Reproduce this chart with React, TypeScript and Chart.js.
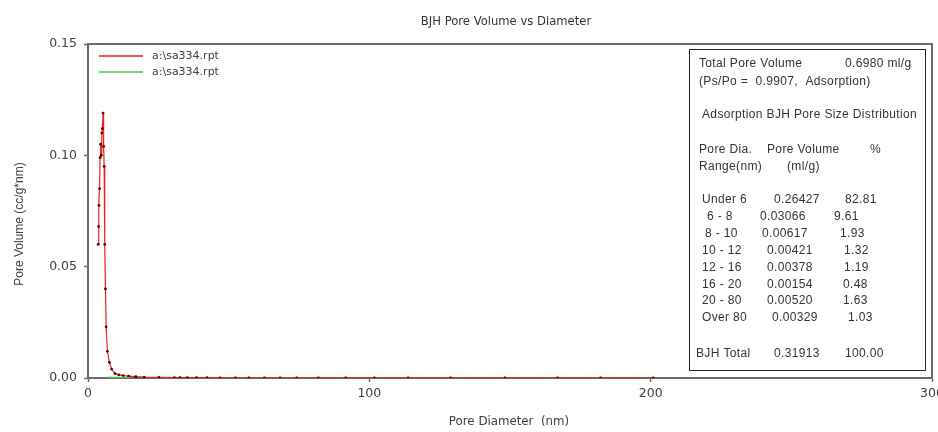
import React, { useEffect, useRef } from "react";
import { Chart, registerables } from "chart.js";

Chart.register(...registerables);

// Adsorption branch, pore diameter (nm) vs dV/dD (cc/g*nm)
const adsDiameter = [
  3.6, 3.75, 3.9, 4.1, 4.3, 4.5, 4.7, 4.9, 5.1, 5.35, 5.55, 5.75, 5.95, 6.2,
  6.45, 6.9, 7.6, 8.4, 9.6, 11, 12.5, 14.5, 17, 20, 25.2, 30.7, 32.7, 35.3,
  38.6, 42.3, 46.9, 52.4, 57.2, 62.7, 68.3, 74.2, 81.9, 91.6, 101.8, 113.8,
  128.9, 148.2, 166.9, 182.2, 200.9,
];
const adsVolume = [
  0.06, 0.068, 0.0775, 0.085, 0.099, 0.105, 0.1, 0.11, 0.112, 0.119, 0.104,
  0.095, 0.06, 0.04, 0.023, 0.012, 0.007, 0.004, 0.002, 0.0014, 0.0011,
  0.0008, 0.0006, 0.0004, 0.0003, 0.0002, 0.0002, 0.0002, 0.00015, 0.00015,
  0.0001, 0.0001, 0.0001, 0.0001, 0.0001, 0.0001, 0.0001, 0.0001, 0.0001,
  0.0001, 0.0001, 0.0001, 0.0001, 0.0001, 0.0001,
];

// Second trace from the same report file
const desDiameter = [7, 9, 11, 13, 15];
const desVolume = [0.0004, 0.0003, 0.0003, 0.0002, 0.0002];

const seriesLabels = ["a:\\sa334.rpt", "a:\\sa334.rpt"];
const seriesColors = ["#f02020", "#40d040"];

const xTicks = [0, 100, 200, 300];
const yTicks = [0, 0.05, 0.1, 0.15];

// Summary table
const totalPoreVolume = "0.6980 ml/g";
const psPo = "(Ps/Po =  0.9907,  Adsorption)";
const rangeLabels = ["Under 6", "6 - 8", "8 - 10", "10 - 12", "12 - 16", "16 - 20", "20 - 80", "Over 80"];
const rangeVolumes = ["0.26427", "0.03066", "0.00617", "0.00421", "0.00378", "0.00154", "0.00520", "0.00329"];
const rangePercents = ["82.81", "9.61", "1.93", "1.32", "1.19", "0.48", "1.63", "1.03"];
const bjhTotal = ["BJH Total", "0.31913", "100.00"];

// column x positions for each row: [range, volume, percent]
const rowX = [
  [702, 774, 845],
  [707, 760, 834],
  [705, 762, 840],
  [702, 767, 844],
  [702, 767, 844],
  [702, 767, 843],
  [702, 767, 843],
  [702, 772, 848],
];
const rowY = [200, 217, 234, 251, 268, 285, 301, 318];

const TEXT = "#404040";
const AXIS = "#6a6a6a";

const decorPlugin = {
  id: "decor",
  afterDraw(chart: any) {
    const { ctx, chartArea } = chart;
    const { left, right, top, bottom } = chartArea;
    ctx.save();

    // frame: top and right edges
    ctx.strokeStyle = AXIS;
    ctx.lineWidth = 2;
    ctx.beginPath();
    ctx.moveTo(left, top);
    ctx.lineTo(right, top);
    ctx.lineTo(right, bottom);
    ctx.stroke();

    // title
    ctx.fillStyle = "#333";
    ctx.font = "11.6px 'DejaVu Sans'";
    ctx.textAlign = "center";
    ctx.textBaseline = "middle";
    ctx.fillText("BJH Pore Volume vs Diameter", 506, 22);

    // axis titles
    ctx.fillStyle = TEXT;
    ctx.font = "11.8px 'DejaVu Sans'";
    ctx.fillText("Pore Diameter  (nm)", 509, 422);
    ctx.save();
    ctx.translate(20, 224);
    ctx.rotate(-Math.PI / 2);
    ctx.font = "12px 'Liberation Sans'";
    ctx.fillText("Pore Volume (cc/g*nm)", 0, 0);
    ctx.restore();

    // legend
    const legendY = [56, 72];
    ctx.textAlign = "left";
    ctx.font = "11px 'DejaVu Sans'";
    seriesLabels.forEach((lab, i) => {
      ctx.strokeStyle = seriesColors[i];
      ctx.lineWidth = 1.5;
      ctx.beginPath();
      ctx.moveTo(99, legendY[i]);
      ctx.lineTo(143, legendY[i]);
      ctx.stroke();
      ctx.fillStyle = TEXT;
      ctx.fillText(lab, 152, legendY[i]);
    });

    // summary table box
    ctx.fillStyle = "#fff";
    ctx.fillRect(689, 49, 237, 322);
    ctx.strokeStyle = "#222";
    ctx.lineWidth = 1;
    ctx.strokeRect(689.5, 49.5, 236, 321);

    ctx.fillStyle = "#333";
    ctx.font = "12px 'Liberation Sans'";
    ctx.letterSpacing = "0.35px";
    ctx.textAlign = "left";
    ctx.fillText("Total Pore Volume", 699, 64);
    ctx.fillText(totalPoreVolume, 845, 64);
    ctx.fillText(psPo, 699, 82);
    ctx.fillText("Adsorption BJH Pore Size Distribution", 702, 115);
    ctx.fillText("Pore Dia.", 699, 150);
    ctx.fillText("Pore Volume", 767, 150);
    ctx.fillText("%", 870, 150);
    ctx.fillText("Range(nm)", 699, 167);
    ctx.fillText("(ml/g)", 787, 167);
    rangeLabels.forEach((lab, i) => {
      ctx.fillText(lab, rowX[i][0], rowY[i]);
      ctx.fillText(rangeVolumes[i], rowX[i][1], rowY[i]);
      ctx.fillText(rangePercents[i], rowX[i][2], rowY[i]);
    });
    ctx.fillText(bjhTotal[0], 696, 354);
    ctx.fillText(bjhTotal[1], 774, 354);
    ctx.fillText(bjhTotal[2], 845, 354);
    ctx.letterSpacing = "0px";

    ctx.restore();
  },
};

export default function App() {
  const ref = useRef<HTMLCanvasElement | null>(null);

  useEffect(() => {
    if (!ref.current) return;
    const toPts = (xs: number[], ys: number[]) => xs.map((x, i) => ({ x, y: ys[i] }));
    const chart = new Chart(ref.current, {
      type: "line",
      data: {
        datasets: [
          {
            label: seriesLabels[1],
            data: toPts(desDiameter, desVolume),
            borderColor: seriesColors[1],
            borderWidth: 1.2,
            pointRadius: 0,
            tension: 0,
          },
          {
            label: seriesLabels[0],
            data: toPts(adsDiameter, adsVolume),
            borderColor: seriesColors[0],
            borderWidth: 1.2,
            pointRadius: 1.4,
            pointBackgroundColor: "#5a0000",
            pointBorderColor: "#5a0000",
            pointBorderWidth: 0,
            tension: 0,
          },
        ],
      },
      options: {
        responsive: false,
        animation: false,
        events: [],
        layout: { padding: { top: 44, right: 6, left: 0, bottom: 0 } },
        plugins: {
          legend: { display: false },
          title: { display: false },
          tooltip: { enabled: false },
        },
        scales: {
          x: {
            type: "linear",
            min: 0,
            max: 300,
            afterBuildTicks: (s: any) => {
              s.ticks = xTicks.map((v) => ({ value: v }));
            },
            afterFit: (s: any) => {
              s.height = 54;
              s.paddingLeft = 0;
              s.paddingRight = 0;
            },
            ticks: {
              color: TEXT,
              font: { family: "'DejaVu Sans'", size: 12.5 },
              padding: 4,
              maxRotation: 0,
              autoSkip: false,
            },
            grid: {
              display: true,
              drawOnChartArea: false,
              drawTicks: true,
              tickLength: 4,
              tickColor: AXIS,
              tickWidth: 1.5,
            },
            border: { display: true, color: AXIS, width: 2 },
          },
          y: {
            type: "linear",
            min: 0,
            max: 0.15,
            afterBuildTicks: (s: any) => {
              s.ticks = yTicks.map((v) => ({ value: v }));
            },
            afterFit: (s: any) => {
              s.width = 88;
              s.paddingTop = 0;
              s.paddingBottom = 0;
            },
            ticks: {
              color: TEXT,
              font: { family: "'DejaVu Sans'", size: 12.5 },
              padding: 7,
              callback: (v: any) => Number(v).toFixed(2),
            },
            grid: {
              display: true,
              drawOnChartArea: false,
              drawTicks: true,
              tickLength: 4,
              tickColor: AXIS,
              tickWidth: 1.5,
            },
            border: { display: true, color: AXIS, width: 2 },
          },
        },
      },
      plugins: [decorPlugin],
    });
    return () => chart.destroy();
  }, []);

  return (
    <div style={{ position: "absolute", left: 0, top: 0, width: 938, height: 432, background: "#fff" }}>
      <canvas ref={ref} width={938} height={432} style={{ width: 938, height: 432, display: "block" }} />
    </div>
  );
}
